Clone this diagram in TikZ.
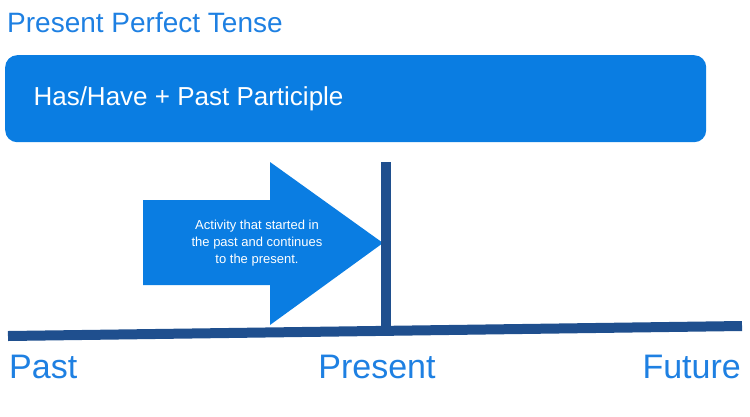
\documentclass[tikz,border=0pt]{standalone}
\usepackage{fontspec}
\setmainfont{Liberation Sans}
\definecolor{tblue}{HTML}{1E80E2}
\definecolor{bblue}{HTML}{0A7DE2}
\definecolor{dblue}{HTML}{1F4F8E}
\tikzset{lbl/.style={text=tblue,font=\fontsize{34}{36}\selectfont,inner sep=0pt}}
\begin{document}
\begin{tikzpicture}[x=1pt,y=-1pt]
\useasboundingbox (0,0) rectangle (750,416);
\node[lbl,anchor=west,font=\fontsize{28}{30}\selectfont] (title) at (7,23) {Present Perfect Tense};
\node[fill=bblue,rounded corners=12pt,minimum width=701pt,minimum height=87pt,anchor=north west,inner sep=0pt] (box) at (5,55) {};
\node[text=white,anchor=west,font=\fontsize{26}{28}\selectfont] (formula) at (30,99) {Has/Have + Past Participle};
\fill[bblue] (143,200) -- (270,200) -- (270,162) -- (383,243) -- (270,325) -- (270,285) -- (143,285) -- cycle;
\node[text=white,align=center,font=\fontsize{13}{17}\selectfont] (act) at (257,243) {Activity that started in\\the past and continues\\to the present.};
\coordinate (l) at (8,336);
\coordinate (r) at (742,326);
\coordinate (vt) at (386,162);
\coordinate (vb) at (386,332);
\draw[dblue,line width=10pt] (vt) -- (vb);
\draw[dblue,line width=10pt] (l) -- (r);
\node[lbl,anchor=west] (past) at (9,367) {Past};
\node[lbl] (present) at (377,367) {Present};
\node[lbl,anchor=east] (future) at (741,367) {Future};
\end{tikzpicture}
\end{document}
